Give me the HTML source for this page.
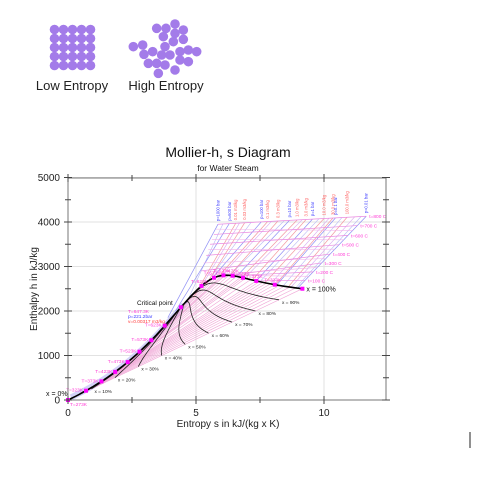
<!DOCTYPE html>
<html><head><meta charset="utf-8"><style>
html,body{margin:0;padding:0;background:#fff;}
svg{display:block;font-family:"Liberation Sans",sans-serif;}
</style></head><body>
<svg id="chart" width="487" height="480" viewBox="0 0 487 480" xmlns="http://www.w3.org/2000/svg">
<g id="icons"></g>
<text x="72" y="90" font-size="13" text-anchor="middle" fill="#222">Low Entropy</text>
<text x="166" y="90" font-size="13" text-anchor="middle" fill="#222">High Entropy</text>
<text x="228" y="157" font-size="14" text-anchor="middle" fill="#111">Mollier-h, s Diagram</text>
<text x="228" y="171" font-size="8.5" text-anchor="middle" fill="#111">for Water Steam</text>
<g id="grid"></g>
<g id="plot"></g>
<g id="axes"></g>
<text x="228" y="427" font-size="10" text-anchor="middle" fill="#222">Entropy s in kJ/(kg x K)</text>
<text transform="translate(37,289) rotate(-90)" font-size="10" text-anchor="middle" fill="#222">Enthalpy h in kJ/kg</text>
<line x1="470" y1="432" x2="470" y2="448" stroke="#222" stroke-width="1"/>
</svg>
<script>
// ---- data ----
const satTC = [0.01,10,20,30,40,50,60,70,80,90,100,120,140,150,160,180,200,220,240,250,260,280,300,320,340,350,360,370,374.15];
const satSL = [0,0.151,0.297,0.437,0.572,0.704,0.831,0.955,1.075,1.193,1.307,1.528,1.739,1.842,1.943,2.139,2.331,2.518,2.702,2.793,2.884,3.067,3.254,3.448,3.659,3.778,3.915,4.112,4.41];
const satHL = [0,42,84,126,168,209,251,293,335,377,419,504,589,632,676,763,852,944,1038,1086,1135,1237,1344,1461,1594,1671,1762,1891,2084];
const satSV = [9.156,8.901,8.667,8.453,8.257,8.076,7.909,7.755,7.612,7.479,7.355,7.130,6.930,6.838,6.750,6.585,6.432,6.285,6.143,6.073,6.001,5.856,5.705,5.536,5.336,5.213,5.053,4.800,4.41];
const satHV = [2501,2519,2538,2556,2574,2592,2609,2626,2643,2660,2676,2706,2734,2746,2758,2778,2793,2802,2804,2802,2797,2780,2749,2700,2622,2564,2481,2334,2084];
const qualities = [0.1,0.2,0.3,0.4,0.5,0.6,0.7,0.8,0.9];
const qualityLabels = ["x = 10%","x = 20%","x = 30%","x = 40%","x = 50%","x = 60%","x = 70%","x = 80%","x = 90%"];
const markerTC = [0.01,50,100,150,200,250,300,350];
const markerLabels = ["T=273K","T=323K","T=373K","T=423K","T=473K","T=523K","T=573K","T=623K"];
// isobars: label, bottom (s,h), top s
const isobarLabels = ["p=1000 bar","p=600 bar","p=100 bar","p=10 bar","p=1 bar","p=0.1 bar","p=0.01 bar"];
const isobarBotS = [3.9,4.2,5.61,6.585,7.355,8.15,8.97];
const isobarBotH = [1850,2000,2725,2778,2676,2584,2514];
const isobarTopS = [5.86,6.3,7.55,8.65,9.55,10.45,11.65];
const isochoreLabels = ["0.01 m3/kg","0.03 m3/kg","0.1 m3/kg","0.3 m3/kg","1.0 m3/kg","3.0 m3/kg","10.0 m3/kg","30.0 m3/kg","100.0 m3/kg"];
const isochoreBotS = [4.9,5.4,5.9,6.3,6.8,7.2,7.7,8.1,8.6];
const isochoreBotH = [2300,2600,2790,2790,2760,2700,2640,2590,2540];
const isochoreTopS = [6.55,6.9,7.8,8.2,8.95,9.3,10.0,10.35,10.9];
const minorTopS = [6.05,6.7,7.15,7.95,8.45,9.15,9.8,10.2,10.7,11.2,11.45];
const minorBotS = [4.6,5.1,5.5,6.0,6.3,6.9,7.5,7.9,8.4,8.7,8.9];
const minorBotH = [2150,2450,2700,2800,2790,2740,2660,2600,2560,2530,2520];
const isothermLabels = ["t=100 C","t=200 C","t=300 C","t=400 C","t=500 C","t=600 C","t=700 C","t=800 C"];
const isothermLeftS = [7.355,6.432,5.705,5.2,5.4,5.55,5.7,5.86];
const isothermLeftH = [2676,2793,2749,2900,3250,3500,3720,3950];
const isothermRightH = [2690,2880,3080,3280,3490,3700,3920,4130];
const minorIsothermLeftS = [6.0,5.35,5.3,5.48,5.62,5.78];
const minorIsothermLeftH = [2800,2800,3080,3380,3610,3840];
const minorIsothermRightH = [2780,2980,3180,3390,3600,3810];
const xTicks = [0,5,10];
const yTicks = [0,1000,2000,3000,4000,5000];

// ---- scales ----
const X0=68, X1=386, Y0=400, Y1=178;
const sx = s => X0 + s*25.6;
const hy = h => Y0 - h*0.0445;
const NS="http://www.w3.org/2000/svg";
function mk(parent, tag, attrs){const e=document.createElementNS(NS,tag);for(const k in attrs)e.setAttribute(k,attrs[k]);parent.appendChild(e);return e;}
const grid=document.getElementById('grid'), plot=document.getElementById('plot'), axes=document.getElementById('axes'), icons=document.getElementById('icons');

// ---- icons ----
const purple="#a37be9";
for(let i=0;i<5;i++)for(let j=0;j<5;j++){
  const c=mk(icons,'circle',{cx:54.5+i*9,cy:29.5+j*9,r:4.8,fill:purple});
  
  
}
const hiX=[470,498,525,550,525,490,520,550,400,428,458,432,495,485,510,540,565,590,445,470,495,475,525,540,565];
const hiY=[85,85,72,90,100,110,125,118,140,135,155,163,140,165,165,155,150,155,190,190,195,220,210,180,185];
for(let i=0;i<hiX.length;i++){
  const c=mk(icons,'circle',{cx:hiX[i]/3,cy:hiY[i]/3,r:4.8,fill:purple});
  
  
}

// ---- grid ----
xTicks.forEach(t=>{const l=mk(grid,'line',{x1:sx(t),x2:sx(t),y1:Y1,y2:Y0,stroke:'#e2e2e2','stroke-width':1});
  });
yTicks.forEach(t=>{const l=mk(grid,'line',{x1:X0,x2:X1,y1:hy(t),y2:hy(t),stroke:'#e2e2e2','stroke-width':1});
  });

function topH(s){return 3950+(s-5.86)/(11.65-5.86)*180;}
const pts=a=>a.map(p=>sx(p[0]).toFixed(1)+','+hy(p[1]).toFixed(1)).join(' ');

// shading along liquid line
const band=mk(plot,'polyline',{points:pts(satSL.map((s,i)=>[s+0.12,satHL[i]+60])),fill:'none',stroke:'#c9c6f7','stroke-width':6,'stroke-opacity':0.8});


// wet region lines
satTC.forEach((t,i)=>{
  const l=mk(plot,'line',{x1:sx(satSL[i]),y1:hy(satHL[i]),x2:sx(satSV[i]),y2:hy(satHV[i]),stroke:'#f0a6d6','stroke-width':0.6});
  
});

// minor superheated lines
minorTopS.forEach((ts,i)=>{
  const l=mk(plot,'line',{x1:sx(minorBotS[i]),y1:hy(minorBotH[i]),x2:sx(ts),y2:hy(topH(ts)),stroke:i%2?'#d9a8f0':'#b9b9f5','stroke-width':0.6});
  
});
// isochores
isochoreTopS.forEach((ts,i)=>{
  const l=mk(plot,'line',{x1:sx(isochoreBotS[i]),y1:hy(isochoreBotH[i]),x2:sx(ts),y2:hy(topH(ts)),stroke:'#f39aa0','stroke-width':0.7});
  
  const x=sx(ts), y=hy(topH(ts))-3;
  const tx=mk(plot,'text',{transform:`translate(${x+1.5},${y}) rotate(-90)`,'font-size':4.2,fill:'#ff5a5a'});
  tx.textContent=isochoreLabels[i];
  
});
// isobars
isobarTopS.forEach((ts,i)=>{
  const l=mk(plot,'line',{x1:sx(isobarBotS[i]),y1:hy(isobarBotH[i]),x2:sx(ts),y2:hy(topH(ts)),stroke:'#8f8ff5','stroke-width':0.7});
  
  const x=sx(ts), y=hy(topH(ts))-3;
  const tx=mk(plot,'text',{transform:`translate(${x+1.5},${y}) rotate(-90)`,'font-size':4.2,fill:'#3a3aff'});
  tx.textContent=isobarLabels[i];
  
});
function rightS(h){return 8.97+(h-2514)/(4130-2514)*(11.65-8.97);}
minorIsothermLeftS.forEach((ls,i)=>{
  const rh=minorIsothermRightH[i];
  const l=mk(plot,'line',{x1:sx(ls),y1:hy(minorIsothermLeftH[i]),x2:sx(rightS(rh)),y2:hy(rh),stroke:'#f2b4ea','stroke-width':0.6});
  
});
isothermLeftS.forEach((ls,i)=>{
  const rh=isothermRightH[i], rs=rightS(rh);
  const l=mk(plot,'line',{x1:sx(ls),y1:hy(isothermLeftH[i]),x2:sx(rs),y2:hy(rh),stroke:'#ea8ae0','stroke-width':0.7});
  
  const tx=mk(plot,'text',{x:sx(rs)+3,y:hy(rh)+2,'font-size':4.8,fill:'#ff3cd6'});
  tx.textContent=isothermLabels[i];
  
});

// quality lines
qualities.forEach((q,k)=>{
  const p=satTC.map((t,i)=>[satSL[i]+q*(satSV[i]-satSL[i]), satHL[i]+q*(satHV[i]-satHL[i])]);
  const l=mk(plot,'polyline',{points:pts(p),fill:'none',stroke:'#222','stroke-width':0.8});
  
  const tx=mk(plot,'text',{x:sx(p[0][0])+3,y:hy(p[0][1])+4,'font-size':4.8,fill:'#222'});
  tx.textContent=qualityLabels[k];
  
});

// saturation curve
const dome=satSL.map((s,i)=>[s,satHL[i]]).concat(satSV.map((s,i)=>[s,satHV[i]]).reverse());
const sat=mk(plot,'polyline',{points:pts(dome),fill:'none',stroke:'#000','stroke-width':1.6});


// markers
markerTC.forEach((t,k)=>{
  const i=satTC.indexOf(t);
  [[satSL[i],satHL[i],'liquid'],[satSV[i],satHV[i],'vapor']].forEach(([s,h,side])=>{
    const m=mk(plot,'rect',{x:sx(s)-2,y:hy(h)-2,width:4,height:4,fill:'#ff00ff'});
    
    let a;
    if(side==='liquid'){a=k===0?{x:sx(s)+2,y:hy(h)+6,'text-anchor':'start'}:{x:sx(s)-3,y:hy(h)+1,'text-anchor':'end'};}
    else {a=k===0?null:{x:sx(s)-2,y:hy(h)-3,'text-anchor':'middle'};}
    if(a){a['font-size']=4.8;a.fill='#ff3cd6';
      const tx=mk(plot,'text',a);tx.textContent=markerLabels[k];
      }
  });
});
// critical point
const ci=satTC.length-1;
const cp=mk(plot,'rect',{x:sx(satSL[ci])-2,y:hy(satHL[ci])-2,width:4,height:4,fill:'#ff00ff'});

[["Critical point",6.5,'#111',0],["T=647.3K",4.8,'#ff3cd6',8],["p=221.2bar",4.8,'#3a3aff',13],["v=0.00317 m3/kg",4.8,'#ff3a3a',18]].forEach(([t,fs,c,dy],k)=>{
  const tx=mk(plot,'text',{x:k?128:137,y:305+dy,'font-size':fs,fill:c});tx.textContent=t;
  
});
const x100=mk(plot,'text',{x:sx(satSV[0])+4,y:hy(satHV[0])+3,'font-size':7,fill:'#111'});x100.textContent="x = 100%";

const x0=mk(plot,'text',{x:46,y:396,'font-size':7,fill:'#111'});x0.textContent="x = 0%";


// ---- axes ----
const frame=mk(axes,'rect',{x:X0,y:Y1,width:X1-X0,height:Y0-Y1,fill:'none',stroke:'#777','stroke-width':1});

xTicks.forEach(t=>{
  const l=mk(axes,'line',{x1:sx(t),x2:sx(t),y1:Y0-4,y2:Y0+4,stroke:'#444'});
  const l2=mk(axes,'line',{x1:sx(t),x2:sx(t),y1:Y1-4,y2:Y1+4,stroke:'#444'});
  const tx=mk(axes,'text',{x:sx(t),y:416,'font-size':10,'text-anchor':'middle',fill:'#222'});tx.textContent=t;
  
});
[2.5,7.5,12.5].forEach(t=>{if(sx(t)<X1){const l=mk(axes,'line',{x1:sx(t),x2:sx(t),y1:Y0-3,y2:Y0+3,stroke:'#444'});
  const l2=mk(axes,'line',{x1:sx(t),x2:sx(t),y1:Y1-3,y2:Y1+3,stroke:'#444'});}});
yTicks.forEach(t=>{
  const l=mk(axes,'line',{x1:X0-4,x2:X0+4,y1:hy(t),y2:hy(t),stroke:'#444'});
  const l2=mk(axes,'line',{x1:X1-4,x2:X1+4,y1:hy(t),y2:hy(t),stroke:'#444'});
  const tx=mk(axes,'text',{x:60,y:hy(t)+3.5,'font-size':10,'text-anchor':'end',fill:'#222'});tx.textContent=t;
  
});
[500,1500,2500,3500,4500].forEach(t=>{
  const l=mk(axes,'line',{x1:X0-3,x2:X0+3,y1:hy(t),y2:hy(t),stroke:'#444'});
  const l2=mk(axes,'line',{x1:X1-3,x2:X1+3,y1:hy(t),y2:hy(t),stroke:'#444'});
});
</script>
</body></html>
